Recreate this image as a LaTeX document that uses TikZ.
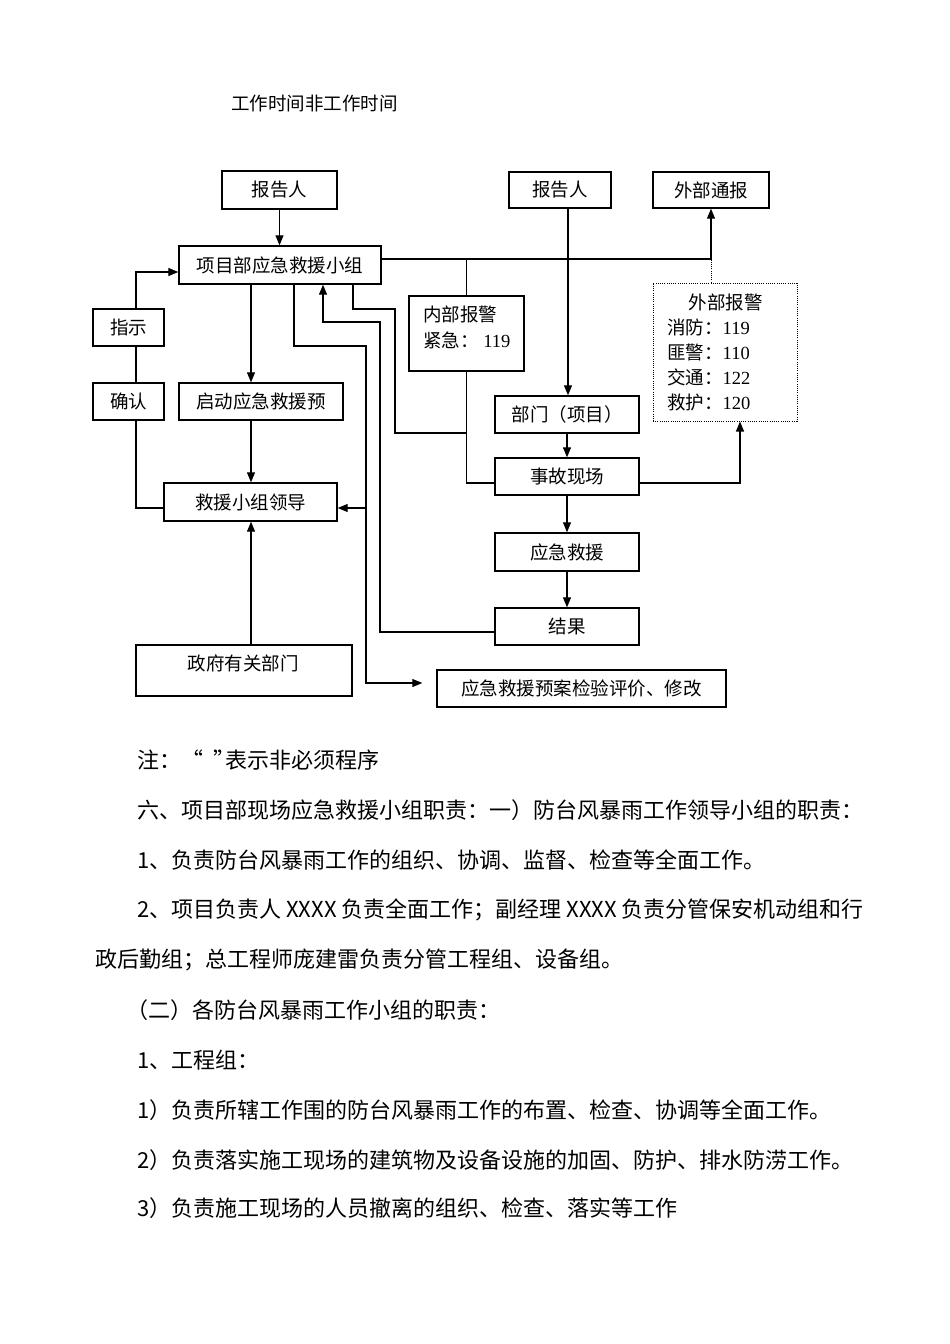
\documentclass[tikz,border=0pt]{standalone}
\usepackage{fontspec}
\setmainfont{Noto Sans CJK SC}
\newfontfamily\tms{Liberation Serif}
\usetikzlibrary{arrows.meta}
\begin{document}
\begin{tikzpicture}[x=1pt,y=-1pt,
  box/.style={draw, line width=1.4pt, inner sep=0pt, font=\fontsize{18.5}{20}\selectfont},
  dbox/.style={draw, line width=1pt, dash pattern=on 1pt off 1.2pt, inner sep=0pt},
  conn/.style={line width=1.1pt},
  dconn/.style={line width=1pt, dash pattern=on 1pt off 1.2pt},
  arr/.style={conn, -{Triangle[length=10pt,width=8pt]}},
  txt/.style={inner sep=0pt, anchor=west, font=\fontsize{22}{24}\selectfont},
  dtxt/.style={inner sep=0pt, font=\fontsize{18.5}{20}\selectfont}]

\fill[white] (0,0) rectangle (950,1344);
\useasboundingbox (0,0) rectangle (950,1344);

% title
\node[dtxt, anchor=west] (title) at (231,104) {工作时间非工作时间};

% boxes
\node[box, minimum width=115pt, minimum height=38pt] (rep1) at (279.5,190) {报告人};
\node[box, minimum width=202pt, minimum height=38pt] (xmb) at (280,265) {项目部应急救援小组};
\node[box, minimum width=71pt, minimum height=37pt] (zs) at (128.5,327.5) {指示};
\node[box, minimum width=71pt, minimum height=37pt] (qr) at (128.5,401.5) {确认};
\node[box, minimum width=164pt, minimum height=37pt] (qd) at (261,401.5) {启动应急救援预};
\node[box, minimum width=173pt, minimum height=38pt] (ld) at (250.5,502) {救援小组领导};
\node[box, minimum width=216pt, minimum height=51pt] (zf) at (244,670.5) {};
\node[dtxt] (zft) at (243,663) {政府有关部门};
\node[box, minimum width=102pt, minimum height=36pt] (rep2) at (560,190) {报告人};
\node[box, minimum width=116pt, minimum height=36pt] (wbtb) at (711,190) {外部通报};
\node[box, minimum width=115pt, minimum height=75pt] (nbbj) at (466.5,333.5) {};
\node[dtxt, anchor=west] (nb1) at (423,314) {内部报警};
\node[dtxt, anchor=west] (nb2) at (423,340) {紧急：\hspace{0.25em}{\tms 119}};
\node[dbox, minimum width=144pt, minimum height=138pt] (wbbj) at (725,352) {};
\node[dtxt] (wb0) at (725.5,302) {外部报警};
\node[dtxt, anchor=west] (wb1) at (667,327) {消防：{\tms 119}};
\node[dtxt, anchor=west] (wb2) at (667,352) {匪警：{\tms 110}};
\node[dtxt, anchor=west] (wb3) at (667,377) {交通：{\tms 122}};
\node[dtxt, anchor=west] (wb4) at (667,402) {救护：{\tms 120}};
\node[box, minimum width=144pt, minimum height=37pt] (bm) at (567,414.5) {部门（项目）};
\node[box, minimum width=144pt, minimum height=37pt] (sg) at (567,476.5) {事故现场};
\node[box, minimum width=144pt, minimum height=38pt] (yj) at (567,552) {应急救援};
\node[box, minimum width=144pt, minimum height=37pt] (jg) at (567,626.5) {结果};
\node[box, minimum width=289pt, minimum height=37pt] (jy) at (581.5,688.5) {应急救援预案检验评价、修改};

% helper coordinates
\coordinate (h) at ([yshift=6pt]xmb.east);
\coordinate (c1) at (366,346);
\coordinate (c2) at (366,683);
\coordinate (c3) at ([xshift=-14pt,yshift=5.5pt]jy.west);
\coordinate (c4) at (366,508);
\coordinate (c5) at (380,322);
\coordinate (c6) at (395,309);
\coordinate (c7) at (467,433);

% connectors
\draw[arr] (rep1.south) -- (rep1.south |- xmb.north);
\draw[arr] ([xshift=7.5pt]zs.north) |- ([yshift=-7pt]xmb.west);
\draw[conn] ([xshift=7.5pt]zs.south) -- ([xshift=7.5pt]qr.north);
\draw[conn] ([xshift=7.5pt]qr.south) |- ([yshift=-6pt]ld.west);
\draw[arr] ([xshift=-29pt]xmb.south) -- ([xshift=-29pt]xmb.south |- qd.north);
\draw[arr] ([xshift=-10pt]qd.south) -- ([xshift=-10pt]qd.south |- ld.north);
\draw[arr] ([xshift=7pt]zf.north) -- ([xshift=7pt]zf.north |- ld.south);
\draw[arr] ([xshift=14pt]xmb.south) |- (c1) -- (c2) -- (c3);
\draw[arr] (c4) -- (c4 -| ld.east);
\draw[arr] ([yshift=-5.5pt]jg.west) -| (c5) -| ([xshift=43pt]xmb.south);
\draw[conn] ([xshift=73pt]xmb.south) |- (c6) |- (c7);
\draw[arr] (h) -| (wbtb.south);
\draw[conn] (nbbj.north |- h) -- (nbbj.north);
\draw[conn] (nbbj.south) |- ([yshift=-6.5pt]sg.west);
\draw[arr] ([xshift=8pt]rep2.south) -- ([xshift=8pt]rep2.south |- bm.north);
\draw[arr] (bm.south) -- (sg.north);
\draw[arr] ([yshift=-6.5pt]sg.east) -| ([xshift=15pt]wbbj.south);
\draw[arr] (sg.south) -- (yj.north);
\draw[arr] (yj.south) -- (jg.north);
\draw[dconn] ([xshift=-14pt]wbbj.north) -- ([xshift=-14pt]wbbj.north |- h);

% body text
\node[txt] (t1) at (137,760) {注：“\makebox[1em][l]{\hspace{0.45em}”}表示非必须程序};
\node[txt] (t2) at (137,810) {六、项目部现场应急救援小组职责：一）防台风暴雨工作领导小组的职责：};
\node[txt] (t3) at (137,860) {1、负责防台风暴雨工作的组织、协调、监督、检查等全面工作。};
\node[txt] (t4) at (137,910) {2、项目负责人 XXXX 负责全面工作；副经理 XXXX 负责分管保安机动组和行};
\node[txt] (t5) at (95,960) {政后勤组；总工程师庞建雷负责分管工程组、设备组。};
\node[txt] (t6) at (126,1010) {（二）各防台风暴雨工作小组的职责：};
\node[txt] (t7) at (137,1060) {1、工程组：};
\node[txt] (t8) at (137,1110) {1）负责所辖工作围的防台风暴雨工作的布置、检查、协调等全面工作。};
\node[txt] (t9) at (137,1160) {2）负责落实施工现场的建筑物及设备设施的加固、防护、排水防涝工作。};
\node[txt] (t10) at (137,1208) {3）负责施工现场的人员撤离的组织、检查、落实等工作};
\end{tikzpicture}
\end{document}
